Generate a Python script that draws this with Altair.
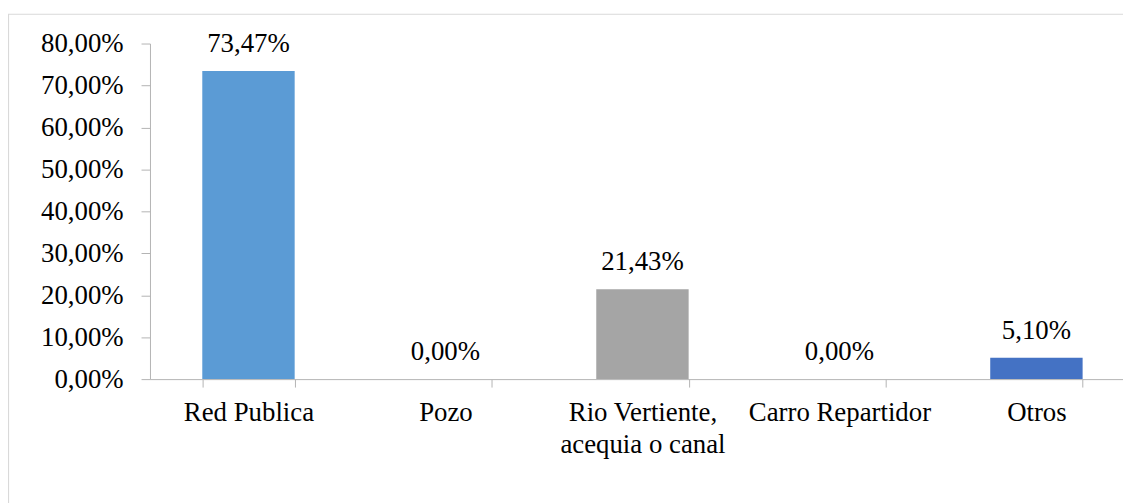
import altair as alt
import pandas as pd

categories = ["Red Publica", "Pozo", "Rio Vertiente,\nacequia o canal", "Carro Repartidor", "Otros"]
values = [0.7347, 0.0, 0.2143, 0.0, 0.0510]
colors = ["#5B9BD5", "#ED7D31", "#A5A5A5", "#FFC000", "#4472C4"]
y_ticks = [0.0, 0.1, 0.2, 0.3, 0.4, 0.5, 0.6, 0.7, 0.8]

df = pd.DataFrame({"cat": categories, "v": values})

FONT = "'Times New Roman', 'Liberation Serif', serif"
FS = 27
AXIS_GRAY = "#B3B3B3"

x_enc = alt.X(
    "cat:N",
    sort=categories,
    scale=alt.Scale(range=[0, 992], paddingInner=0.531, paddingOuter=0.2655),
    axis=alt.Axis(
        title=None,
        labelAngle=0,
        labelFont=FONT,
        labelFontSize=FS,
        labelColor="#000000",
        labelPadding=13,
        labelLineHeight=31.5,
        labelBaseline="top",
        labelExpr="split(datum.label, '\\n')",
        tickBand="extent",
        tickSize=8,
        tickColor=AXIS_GRAY,
        domainColor=AXIS_GRAY,
        labelLimit=400,
        grid=False,
    ),
)

y_enc = alt.Y(
    "v:Q",
    scale=alt.Scale(domain=[0, 0.8], nice=False),
    axis=alt.Axis(
        title=None,
        values=y_ticks,
        labelExpr="replace(format(datum.value, '.2%'), '.', ',')",
        labelFont=FONT,
        labelFontSize=FS,
        labelColor="#000000",
        labelPadding=18,
        tickSize=9,
        tickColor=AXIS_GRAY,
        domainColor=AXIS_GRAY,
        grid=False,
    ),
)

border = alt.Chart(alt.Data(values=[{"a": 1}])).mark_rect(
    fill="transparent", stroke="#D9D9D9", strokeWidth=1.2
).encode(
    x=alt.value(-142.5), x2=alt.value(1100), y=alt.value(-29.5), y2=alt.value(600)
)

bars = alt.Chart(df).mark_bar().encode(
    x=x_enc,
    y=y_enc,
    color=alt.Color("cat:N", scale=alt.Scale(domain=categories, range=colors), legend=None),
)

labels = alt.Chart(df).transform_calculate(
    lab="replace(format(datum.v, '.2%'), '.', ',')"
).mark_text(
    font=FONT, fontSize=FS, color="#000000", baseline="alphabetic", dy=-19
).encode(
    x=alt.X("cat:N", sort=categories),
    y=alt.Y("v:Q"),
    text="lab:N",
)

chart = alt.layer(border, bars, labels).properties(
    width=980,
    height=338,
    autosize=alt.AutoSizeParams(type="none"),
    padding={"left": 143, "top": 34, "right": 0, "bottom": 123},
).configure(
    background="#FFFFFF", font=FONT
).configure_view(stroke="transparent", strokeWidth=0)

chart.save("out.html", embed_options={"renderer": "svg", "actions": False})
